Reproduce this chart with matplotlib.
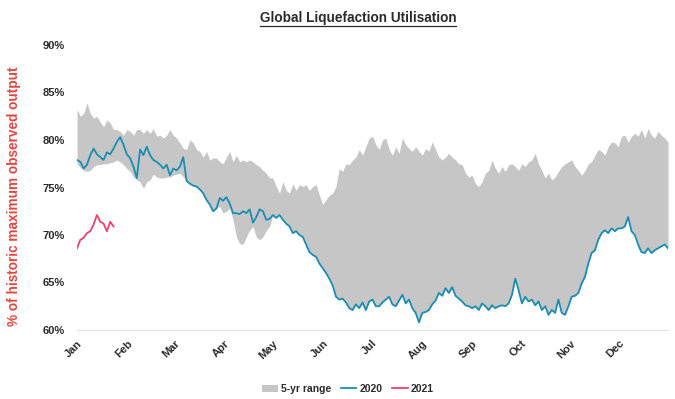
import numpy as np
import pandas as pd
import matplotlib
matplotlib.use("Agg")
import matplotlib.pyplot as plt
from matplotlib.patches import Patch
from matplotlib.lines import Line2D

# Five-year range (upper edge), % of historic maximum observed output
range_high = [
    83.2, 82.5, 82.8, 83.9, 82.8, 82.3, 82.5, 81.9, 81.4, 82.1, 81.8, 81.1, 81.1, 80.9, 80.5,
    81.1, 80.9, 80.5, 81.1, 81.1, 80.7, 81.1, 80.7, 81.2, 80.4, 80.5, 80.2, 80.5, 81.1, 80.5,
    80.2, 79.7, 79.1, 79.0, 80.0, 79.7, 79.0, 78.8, 78.2, 78.8, 77.9, 78.1, 78.1, 77.7, 77.5,
    78.2, 78.8, 77.7, 78.4, 77.7, 77.9, 77.7, 77.9, 77.7, 77.4, 77.2, 76.8, 76.5, 76.0,
    76.0, 75.1, 74.4, 75.6, 74.7, 74.4, 75.4, 74.7, 75.3, 75.1, 75.3, 74.7, 75.1, 75.3, 74.2,
    73.2, 73.7, 74.2, 74.4, 75.1, 77.0, 76.7, 77.5, 77.4, 77.9, 78.2, 79.0, 78.4, 79.3, 80.2,
    80.4, 79.5, 79.0, 80.0, 80.2, 79.0, 78.4, 79.3, 78.6, 80.2, 79.5, 79.1, 78.8, 79.3, 78.8,
    78.4, 79.1, 78.8, 79.8, 79.0, 78.2, 77.9, 78.2, 78.6, 78.2, 77.9, 77.5, 77.4, 76.5,
    76.1, 76.3, 75.4, 75.1, 75.6, 76.5, 76.8, 77.9, 77.0, 76.5, 77.2, 76.7, 77.4, 77.5, 77.2,
    76.8, 77.5, 77.2, 77.7, 77.9, 78.6, 77.5, 76.8, 76.0, 76.5, 75.8, 76.1, 76.7, 77.2, 77.5,
    77.7, 77.9, 77.2, 76.8, 76.3, 76.8, 77.5, 77.7, 78.4, 79.0, 78.8, 78.4, 79.3, 79.8, 79.7,
    79.3, 80.4, 80.5, 79.8, 80.4, 80.7, 80.4, 81.1, 80.2, 81.2, 80.5, 80.2, 80.9, 80.5, 80.2,
    79.8,
]

# Five-year range (lower edge) of the earlier years
range_low = [
    77.5, 77.1, 76.8, 76.7, 76.8, 77.2, 77.4, 77.4, 77.5, 77.5, 77.6, 77.7, 77.9, 77.7, 77.4,
    77.0, 76.7, 76.1, 75.8, 75.6, 74.9, 75.6, 75.8, 76.4, 76.1, 76.0, 76.0, 76.1, 76.1, 76.3,
    76.4, 76.5, 76.1, 75.7, 75.4, 75.2, 75.1, 74.8, 74.4, 73.7, 73.2, 72.5, 72.8, 73.0, 72.3,
    72.5, 72.8, 71.6, 69.8, 69.1, 69.0, 69.8, 70.5, 70.9, 69.8, 69.5, 69.8, 70.5, 70.9,
    72.1, 71.8, 72.1, 71.6, 71.2, 70.9, 70.2, 70.4, 70.0, 69.8, 69.0, 68.2, 67.9, 67.7, 67.0,
    66.5, 66.0, 65.4, 64.7, 63.5, 63.2, 63.3, 62.9, 62.3, 62.1, 62.7, 62.3, 62.9, 62.1, 63.0,
    63.2, 62.5, 62.5, 62.9, 63.2, 63.5, 62.7, 62.5, 63.1, 63.7, 62.8, 63.2, 62.3, 61.8, 60.8,
    61.8, 61.9, 62.1, 62.7, 63.1, 63.9, 63.6, 64.4, 63.9, 64.5, 63.6, 63.3, 63.0, 62.6,
    62.5, 62.3, 62.5, 62.1, 62.8, 62.5, 62.1, 62.6, 62.3, 62.5, 62.6, 62.5, 62.8, 63.7, 65.4,
    64.2, 62.8, 63.5, 63.0, 63.2, 62.6, 63.0, 62.1, 62.5, 61.6, 62.1, 61.8, 63.2, 61.8, 61.6,
    62.5, 63.5, 63.6, 63.9, 64.9, 65.6, 67.0, 68.1, 68.4, 69.5, 70.2, 70.5, 70.2, 70.7, 70.4,
    70.7, 70.7, 70.9, 71.9, 70.4, 70.0, 69.0, 68.2, 68.1, 68.6, 68.1, 68.4, 68.6, 68.8, 69.0,
    68.6,
]

# 2020 daily utilisation
util_2020 = [
    77.9, 77.7, 77.0, 77.4, 78.4, 79.1, 78.5, 78.2, 77.9, 78.7, 78.5, 79.1, 79.8, 80.3, 79.5,
    78.5, 78.1, 77.2, 76.0, 79.0, 78.4, 79.3, 78.4, 77.9, 77.7, 77.4, 77.0, 77.4, 76.3, 77.0,
    76.8, 77.2, 78.2, 75.7, 75.4, 75.2, 75.1, 74.8, 74.4, 73.7, 73.2, 72.5, 72.8, 73.9, 73.6,
    74.0, 73.3, 72.3, 72.3, 72.2, 72.5, 72.3, 72.7, 71.3, 71.9, 72.7, 72.5, 71.6, 71.7,
    72.1, 71.8, 72.1, 71.6, 71.2, 70.9, 70.2, 70.4, 70.0, 69.8, 69.0, 68.2, 67.9, 67.7, 67.0,
    66.5, 66.0, 65.4, 64.7, 63.5, 63.2, 63.3, 62.9, 62.3, 62.1, 62.7, 62.3, 62.9, 62.1, 63.0,
    63.2, 62.5, 62.5, 62.9, 63.2, 63.5, 62.7, 62.5, 63.1, 63.7, 62.8, 63.2, 62.3, 61.8, 60.8,
    61.8, 61.9, 62.1, 62.7, 63.1, 63.9, 63.6, 64.4, 63.9, 64.5, 63.6, 63.3, 63.0, 62.6,
    62.5, 62.3, 62.5, 62.1, 62.8, 62.5, 62.1, 62.6, 62.3, 62.5, 62.6, 62.5, 62.8, 63.7, 65.4,
    64.2, 62.8, 63.5, 63.0, 63.2, 62.6, 63.0, 62.1, 62.5, 61.6, 62.1, 61.8, 63.2, 61.8, 61.6,
    62.5, 63.5, 63.6, 63.9, 64.9, 65.6, 67.0, 68.1, 68.4, 69.5, 70.2, 70.5, 70.2, 70.7, 70.4,
    70.7, 70.7, 70.9, 71.9, 70.4, 70.0, 69.0, 68.2, 68.1, 68.6, 68.1, 68.4, 68.6, 68.8, 69.0,
    68.6,
]

# 2021 year to date
util_2021 = [68.6, 69.5, 69.7, 70.2, 70.4, 71.1, 72.1, 71.4, 71.2, 70.4, 71.4, 70.9]

month_labels = ["Jan", "Feb", "Mar", "Apr", "May", "Jun",
                "Jul", "Aug", "Sep", "Oct", "Nov", "Dec"]
y_ticks = [60, 65, 70, 75, 80, 85, 90]

FONT = ["Liberation Sans", "DejaVu Sans"]
TEXT_DARK = "#2b2b2b"
GREY_BAND = "#c6c6c6"
BLUE_2020 = "#1b8db3"
RED_2021 = "#e8436e"
RED_LABEL = "#e0483f"

plt.rcParams["font.family"] = FONT
plt.rcParams["font.weight"] = "bold"

dates = pd.date_range("2020-01-01", "2020-12-31", periods=len(util_2020))
# the five-year range includes 2020 itself
band_low = np.minimum(np.array(range_low), np.array(util_2020))

W, H = 675, 399
fig = plt.figure(figsize=(W / 100, H / 100), dpi=100)
ax = fig.add_axes([77 / W, 1 - 330 / H, (668 - 77) / W, (330 - 45) / H])

ax.fill_between(dates, band_low, range_high, color=GREY_BAND, linewidth=0, zorder=1)
ax.plot(dates, util_2020, color=BLUE_2020, lw=1.3, zorder=3)
ax.plot(dates[:len(util_2021)], util_2021, color=RED_2021, lw=1.3, zorder=3)

ax.set_ylim(60, 90)
ax.set_yticks(y_ticks)
ax.set_yticklabels([f"{v}%" for v in y_ticks])
ax.set_xlim(dates[0], dates[-1])
month_starts = pd.date_range("2020-01-01", periods=12, freq="MS")
ax.set_xticks(month_starts)
ax.set_xticklabels(month_labels, rotation=45, ha="right", rotation_mode="anchor")

ax.tick_params(axis="both", length=0, labelsize=8, labelcolor=TEXT_DARK)
ax.tick_params(axis="y", pad=9)
ax.tick_params(axis="x", pad=6)
for lab in ax.get_xticklabels() + ax.get_yticklabels():
    lab.set_fontweight("bold")

for side in ("top", "right", "left"):
    ax.spines[side].set_visible(False)
ax.spines["bottom"].set_color("#e2e2e2")
ax.spines["bottom"].set_linewidth(0.8)

ax.set_ylabel("% of historic maximum observed output", color=RED_LABEL,
              fontsize=9.8, fontweight="bold")
ax.yaxis.set_label_coords(-56 / (668 - 77), 0.47)

# underlined title
title = fig.text(358 / W, 1 - 18 / H, "Global Liquefaction Utilisation",
                 ha="center", va="center", fontsize=9.8, fontweight="bold",
                 color=TEXT_DARK)
fig.canvas.draw()
bb = title.get_window_extent().transformed(fig.transFigure.inverted())
fig.add_artist(Line2D([bb.x0, bb.x1], [bb.y0 - 0.002, bb.y0 - 0.002],
                      transform=fig.transFigure, color=TEXT_DARK, lw=0.9))

handles = [Patch(facecolor=GREY_BAND, edgecolor="none"),
           Line2D([], [], color=BLUE_2020, lw=1.3),
           Line2D([], [], color=RED_2021, lw=1.3)]
fig.legend(handles, ["5-yr range", "2020", "2021"], loc="center",
           bbox_to_anchor=(348 / W, 1 - 389 / H), ncol=3, frameon=False,
           prop={"size": 7.5, "weight": "bold"}, handlelength=1.5,
           handletextpad=0.3, columnspacing=0.9, labelcolor=TEXT_DARK)

fig.savefig("out.png", dpi=100, facecolor="white")
